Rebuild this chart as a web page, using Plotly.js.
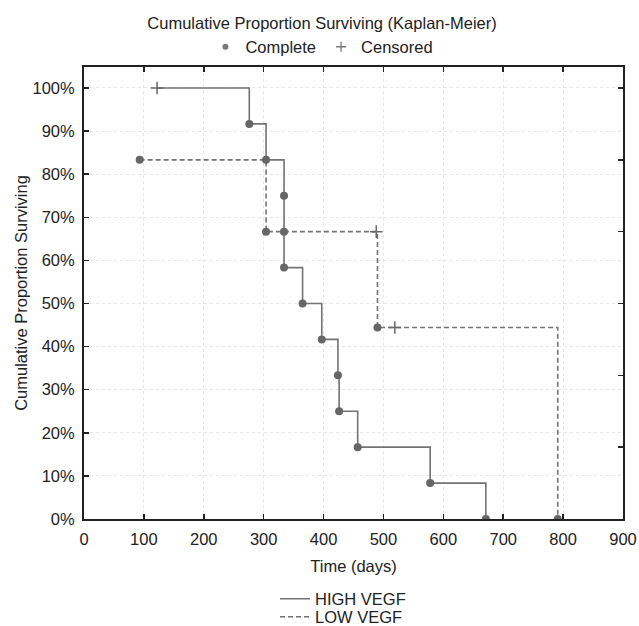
<!DOCTYPE html>
<html>
<head>
<meta charset="utf-8">
<script src="https://cdn.plot.ly/plotly-3.0.1.min.js"></script>
<style>html,body{margin:0;padding:0;background:#fff;}#chart{width:639px;height:626px;}</style>
</head>
<body>
<div id="chart"></div>
<script>
// HIGH VEGF group (time in days, cumulative proportion surviving, censored flag)
const highTime = [122, 276, 304, 334, 334, 334, 365, 397, 424, 426, 457, 578, 671];
const highSurv = [1.0, 0.9167, 0.8333, 0.75, 0.6667, 0.5833, 0.5, 0.4167, 0.3333, 0.25, 0.1667, 0.0833, 0.0];
const highCens = [1, 0, 0, 0, 0, 0, 0, 0, 0, 0, 0, 0, 0];
// LOW VEGF group
const lowTime = [93, 304, 488, 490, 519, 791];
const lowSurv = [0.8333, 0.6667, 0.6667, 0.4444, 0.4444, 0.0];
const lowCens = [0, 0, 1, 0, 1, 0];

const seriesNames = ['HIGH VEGF', 'LOW VEGF'];
const markerNames = ['Complete', 'Censored'];
const xTicks = [0, 100, 200, 300, 400, 500, 600, 700, 800, 900];
const yTicks = [0, 0.1, 0.2, 0.3, 0.4, 0.5, 0.6, 0.7, 0.8, 0.9, 1.0];
const yTickText = ['0%', '10%', '20%', '30%', '40%', '50%', '60%', '70%', '80%', '90%', '100%'];
const rightTicks = [0, 1/6, 2/6, 3/6, 4/6, 5/6, 1];

const FONT = 'Liberation Sans, Arial, sans-serif';
const TXT = '#222';
const LINEC = '#737373';
const MARKC = '#666666';

function pick(arr, flags, want) { return arr.filter((v, i) => flags[i] === want); }

const traces = [
  {x: highTime, y: highSurv, mode: 'lines', line: {shape: 'hv', color: LINEC, width: 1.6},
   name: seriesNames[0], legend: 'legend2', hoverinfo: 'skip'},
  {x: lowTime, y: lowSurv, mode: 'lines', line: {shape: 'hv', color: LINEC, width: 1.6, dash: '5px,3px'},
   name: seriesNames[1], legend: 'legend3', hoverinfo: 'skip'},
  {x: pick(highTime, highCens, 0), y: pick(highSurv, highCens, 0), mode: 'markers',
   marker: {symbol: 'circle', size: 8, color: MARKC}, showlegend: false},
  {x: pick(lowTime, lowCens, 0), y: pick(lowSurv, lowCens, 0), mode: 'markers',
   marker: {symbol: 'circle', size: 8, color: MARKC}, showlegend: false},
  {x: pick(highTime, highCens, 1), y: pick(highSurv, highCens, 1), mode: 'markers',
   marker: {symbol: 'cross-thin', size: 9, color: MARKC, line: {color: MARKC, width: 1.5}}, showlegend: false},
  {x: pick(lowTime, lowCens, 1), y: pick(lowSurv, lowCens, 1), mode: 'markers',
   marker: {symbol: 'cross-thin', size: 9, color: MARKC, line: {color: MARKC, width: 1.5}}, showlegend: false},
  // legend-only entries for marker meaning
  {x: [null], y: [null], mode: 'markers', name: markerNames[0], legend: 'legend',
   marker: {symbol: 'circle', size: 6, color: '#777'}},
  {x: [null], y: [null], mode: 'markers', name: markerNames[1], legend: 'legend',
   marker: {symbol: 'cross-thin', size: 7, color: '#777', line: {color: '#777', width: 1.3}}},
  // invisible trace for right axis
  {x: [0], y: [0], yaxis: 'y2', mode: 'markers', marker: {opacity: 0}, showlegend: false, hoverinfo: 'skip'}
];

const legX = (275 - 84) / 539;
const layout = {
  width: 639, height: 626,
  margin: {l: 84, r: 16, t: 67, b: 107, autoexpand: false},
  paper_bgcolor: '#fff', plot_bgcolor: '#fff',
  font: {family: FONT, size: 16.5, color: TXT},
  title: {text: 'Cumulative Proportion Surviving (Kaplan-Meier)', xref: 'container', x: 0.504,
          xanchor: 'center', yref: 'container', y: 1 - 23/626, yanchor: 'middle',
          font: {family: FONT, size: 16.5, color: TXT}},
  xaxis: {range: [0, 900], tickvals: xTicks, ticktext: xTicks.map(String),
          showline: true, linecolor: '#222', linewidth: 2, mirror: 'ticks',
          ticks: 'inside', ticklen: 5, tickwidth: 1.5, tickcolor: '#222',
          showgrid: true, gridcolor: '#e6e6e6', griddash: 'dot', gridwidth: 1, zeroline: false,
          title: {text: 'Time (days)', standoff: 14, font: {size: 16.5}},
          ticklabelstandoff: 4, automargin: false},
  yaxis: {range: [0, 1.0487], tickvals: yTicks, ticktext: yTickText,
          showline: true, linecolor: '#222', linewidth: 2,
          ticks: 'inside', ticklen: 5, tickwidth: 1.5, tickcolor: '#222',
          showgrid: true, gridcolor: '#e6e6e6', griddash: 'dot', gridwidth: 1, zeroline: false,
          title: {text: 'Cumulative Proportion Surviving', standoff: 1, font: {size: 16.5}},
          ticklabelstandoff: 4, automargin: false},
  yaxis2: {range: [0, 1.0487], overlaying: 'y', side: 'right', tickvals: rightTicks,
           showticklabels: false, showline: true, linecolor: '#222', linewidth: 2,
           ticks: 'inside', ticklen: 5, tickwidth: 1.5, tickcolor: '#222',
           showgrid: false, zeroline: false},
  legend: {orientation: 'h', x: 0.4414, xanchor: 'center', y: 1 + 20/452, yanchor: 'middle',
           bgcolor: 'rgba(0,0,0,0)', font: {size: 16.5}},
  legend2: {orientation: 'v', x: legX, xanchor: 'left', y: -(599 - 519)/452, yanchor: 'middle',
            bgcolor: 'rgba(0,0,0,0)', font: {size: 16.5}},
  legend3: {orientation: 'v', x: legX, xanchor: 'left', y: -(617 - 519)/452, yanchor: 'middle',
            bgcolor: 'rgba(0,0,0,0)', font: {size: 16.5}},
  showlegend: true
};

Plotly.newPlot('chart', traces, layout, {staticPlot: true, displayModeBar: false});
</script>
</body>
</html>
